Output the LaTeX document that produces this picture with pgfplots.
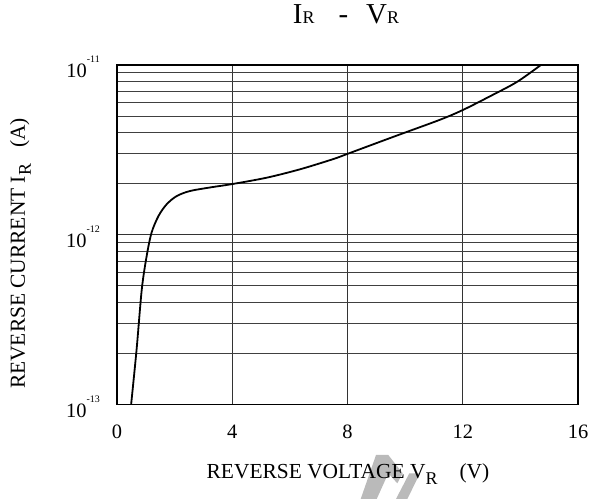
\documentclass[border=0pt]{standalone}
\usepackage{fontspec}
\setmainfont{Liberation Serif}
\usepackage{pgfplots}
\pgfplotsset{compat=1.18}

% decade labels: "10" with a small raised exponent
\newcommand{\dec}[1]{10\raisebox{15bp}{\fontsize{10}{10}\selectfont #1}}
% lowered, slightly smaller subscript letter
\newcommand{\sub}[1]{\raisebox{-6bp}{\fontsize{18}{18}\selectfont #1}}

\begin{document}
\begin{tikzpicture}[x=1bp,y=1bp]
  \path[use as bounding box] (0,0) rectangle (590,499);

  % faint grey watermark behind the x label
  \fill[black!27] (376,44) -- (388.3,44) -- (402.7,25.7) -- (397.3,15.7)
        -- (388.3,25.7) -- (376.7,0) -- (360.7,0) -- cycle;
  \fill[black!27] (409.3,25.7) -- (420,25.7) -- (407.3,0) -- (396,0) -- cycle;

  \begin{axis}[
      at={(117bp,94.5bp)}, anchor=south west,
      scale only axis,
      width=461bp, height=339.5bp,
      xmin=0, xmax=16,
      ymode=log, ymin=1e-13, ymax=1e-11,
      xtick={0,4,8,12,16},
      xticklabels={0,4,8,12,16},
      ytick={1e-13,1e-12,1e-11},
      yticklabels={\dec{-13},\dec{-12},\dec{-11}},
      minor ytick={2e-13,3e-13,4e-13,5e-13,6e-13,7e-13,8e-13,9e-13,
                   2e-12,3e-12,4e-12,5e-12,6e-12,7e-12,8e-12,9e-12},
      xmajorgrids=true, ymajorgrids=true, yminorgrids=true,
      major tick length=0pt, minor tick length=0pt,
      axis line style={line width=1.5bp},
      major grid style={black!80, line width=0.8bp},
      minor grid style={black!75, line width=0.8bp},
      tick label style={font=\fontsize{20.5}{20.5}\selectfont},
      xticklabel style={anchor=north, inner sep=0pt, yshift=-20.5bp},
      yticklabel style={anchor=east, inner sep=0pt, xshift=-17bp, yshift=-2bp},
      title={I{\fontsize{18}{18}\selectfont R}\hspace{24bp}-\hspace{18bp}V{\fontsize{18}{18}\selectfont R}},
      title style={at={(axis description cs:0.4967,1.106)}, anchor=base,
                   font=\fontsize{29}{29}\selectfont},
      xlabel={REVERSE VOLTAGE V\sub{R}\hspace{22bp}(V)},
      xlabel style={at={(axis description cs:0.501,-0.2165)}, anchor=base,
                    font=\fontsize{21.5}{21.5}\selectfont},
      ylabel={REVERSE CURRENT I\sub{R}\hspace{16bp}(A)},
      ylabel style={at={(axis description cs:-0.1996,0.4448)}, anchor=base,
                    font=\fontsize{21.5}{21.5}\selectfont},
    ]

    % reverse current vs reverse voltage
    \addplot[black, line width=1.8bp, smooth, tension=0.5] coordinates {
      (0.49,1.00e-13)
      (0.68,2.11e-13)
      (0.86,4.77e-13)
      (1.03,7.50e-13)
      (1.20,1.03e-12)
      (1.44,1.29e-12)
      (1.72,1.51e-12)
      (2.07,1.69e-12)
      (2.53,1.81e-12)
      (3.23,1.90e-12)
      (4.00,1.99e-12)
      (5.20,2.17e-12)
      (6.35,2.43e-12)
      (7.50,2.79e-12)
      (8.03,3.01e-12)
      (9.60,3.78e-12)
      (11.21,4.76e-12)
      (12.00,5.43e-12)
      (12.95,6.55e-12)
      (13.88,7.95e-12)
      (14.71,1.00e-11)
    };

  \end{axis}
\end{tikzpicture}
\end{document}
